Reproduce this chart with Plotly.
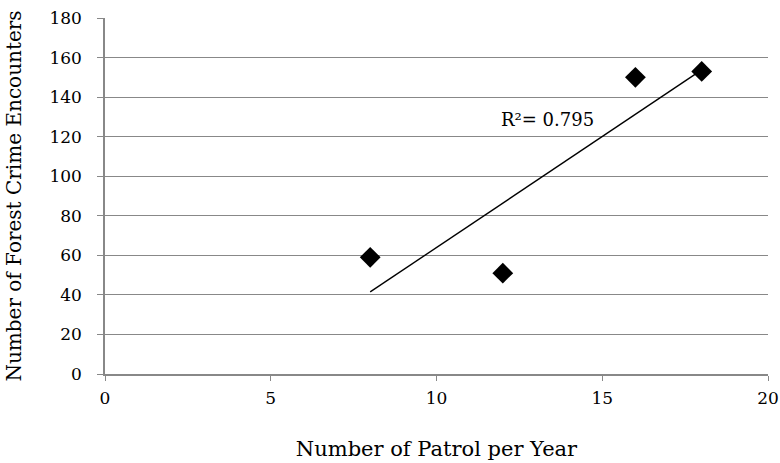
import numpy as np
import plotly.graph_objects as go

patrols = [8, 12, 16, 18]
encounters = [59, 51, 150, 153]
r2_label = "R²= 0.795"

x = np.array(patrols, dtype=float)
y = np.array(encounters, dtype=float)
slope, intercept = np.polyfit(x, y, 1)
fit_x = [x.min(), x.max()]
fit_y = [slope * v + intercept for v in fit_x]

font = "DejaVu Serif, serif"
fig = go.Figure()
fig.add_trace(go.Scatter(x=fit_x, y=fit_y, mode="lines",
                         line=dict(color="black", width=1.4), hoverinfo="skip"))
fig.add_trace(go.Scatter(x=patrols, y=encounters, mode="markers",
                         marker=dict(symbol="diamond", size=16, color="black")))
fig.add_annotation(x=13.35, y=128.5, text=r2_label, showarrow=False,
                   font=dict(family=font, size=18, color="black"))

fig.update_layout(
    width=780, height=463, showlegend=False,
    paper_bgcolor="white", plot_bgcolor="white",
    margin=dict(l=105, r=12, t=18, b=89),
    font=dict(family=font, size=17, color="black"),
    xaxis=dict(range=[0, 20], tickvals=[0, 5, 10, 15, 20], showgrid=False,
               showline=True, linecolor="#888", linewidth=1.5,
               ticks="outside", ticklen=5, tickcolor="#888",
               ticklabelstandoff=3,
               zeroline=False, automargin=False,
               title=dict(text="Number of Patrol per Year", standoff=34,
                          font=dict(size=21))),
    yaxis=dict(range=[0, 180], tickvals=list(range(0, 181, 20)),
               showgrid=True, gridcolor="#888", gridwidth=1.3,
               showline=True, linecolor="#888", linewidth=1.5,
               ticks="outside", ticklen=6, tickcolor="#888",
               ticklabelstandoff=12,
               zeroline=False, automargin=False,
               title=dict(text="Number of Forest Crime Encounters", standoff=22,
                          font=dict(size=20))),
)
fig.write_html("out.html")
